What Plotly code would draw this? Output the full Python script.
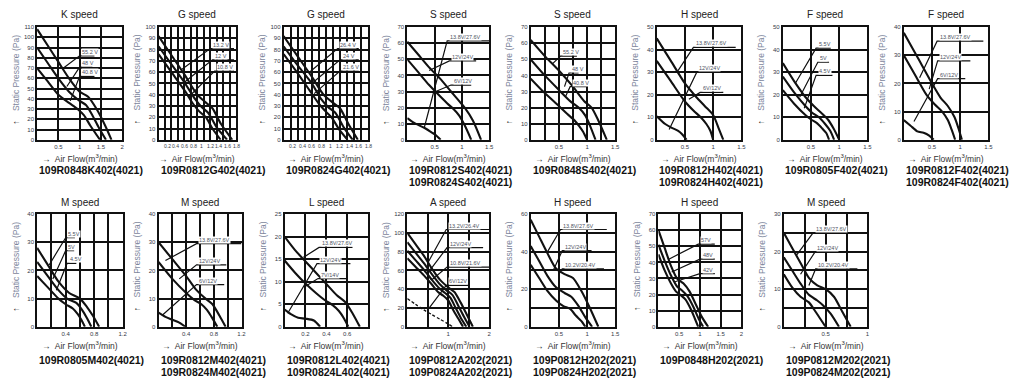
import plotly.graph_objects as go

W, H = 1014, 379

# ---------------- data (air flow m3/min, static pressure Pa) ----------------
# panel 1  K speed 109R0848K402
k48_q = [[0, 0.25, 0.5, 0.75, 1.0, 1.2, 1.4, 1.6, 1.75],
         [0, 0.25, 0.5, 0.75, 1.0, 1.15, 1.3, 1.45, 1.62],
         [0, 0.25, 0.5, 0.75, 0.95, 1.1, 1.25, 1.48]]
k48_p = [[108, 92, 76, 60, 47, 42, 30, 14, 0],
         [90, 75, 60, 47, 38, 34, 24, 12, 0],
         [70, 57, 44, 36, 30, 24, 14, 0]]
k48_volt = ["55.2 V", "48 V", "40.8 V"]
k48_lead = [[0.62, 70, 1.0, 82, 1.35], [0.7, 52, 1.0, 71, 1.3], [0.78, 38, 1.0, 62, 1.35]]

# panel 2  G speed 109R0812G402
g12_q = [[0, 0.3, 0.6, 0.9, 1.1, 1.25, 1.45, 1.71],
         [0, 0.3, 0.6, 0.85, 1.0, 1.15, 1.35, 1.59],
         [0, 0.3, 0.6, 0.8, 0.95, 1.1, 1.25, 1.44]]
g12_p = [[92, 75, 58, 40, 33, 28, 14, 0],
         [83, 67, 51, 36, 29, 24, 11, 0],
         [76, 60, 44, 32, 25, 20, 10, 0]]
g12_volt = ["13.2 V", "12 V", "10.8 V"]
g12_lead = [[0.52, 62, 1.2, 81, 1.75], [0.6, 51, 1.25, 71, 1.75], [0.7, 38, 1.3, 61, 1.75]]

# panel 3  G speed 109R0824G402
g24_q = [[0, 0.3, 0.6, 0.85, 1.05, 1.2, 1.38, 1.58],
         [0, 0.3, 0.6, 0.8, 0.95, 1.1, 1.28, 1.47],
         [0, 0.3, 0.55, 0.75, 0.9, 1.02, 1.17, 1.36]]
g24_p = [[92, 74, 56, 40, 33, 28, 14, 0],
         [83, 66, 50, 36, 29, 24, 11, 0],
         [76, 59, 44, 32, 25, 20, 10, 0]]
g24_volt = ["26.4 V", "24 V", "21.6 V"]
g24_lead = [[0.55, 60, 1.15, 81, 1.6], [0.6, 50, 1.2, 71, 1.6], [0.65, 41, 1.2, 61, 1.6]]

# panel 4  S speed 109R0812S402 / 0824S402
s12_q = [[0, 0.2, 0.4, 0.6, 0.8, 0.95, 1.05, 1.2, 1.35],
         [0, 0.2, 0.4, 0.6, 0.75, 0.85, 0.95, 1.05, 1.17],
         [0, 0.15, 0.31, 0.45, 0.52, 0.61]]
s12_p = [[61, 53, 45, 38, 30, 24, 20, 12, 0],
         [50, 42, 34, 27, 22, 19, 15, 9, 0],
         [13.5, 10, 7.5, 4.5, 3, 0]]
s12_volt = ["13.8V/27.6V", "12V/24V", "6V/12V"]
s12_lead = [[0.31, 7.5, 0.73, 61.5, 1.5], [0.4, 43, 0.77, 49, 1.26], [0.52, 30, 0.8, 34, 1.17]]

# panel 5  S speed 109R0848S402
s48_q = [[0, 0.25, 0.5, 0.75, 0.95, 1.08, 1.2, 1.35],
         [0, 0.25, 0.5, 0.7, 0.85, 0.97, 1.05, 1.15],
         [0, 0.25, 0.5, 0.65, 0.78, 0.87, 0.93, 1.0]]
s48_p = [[62, 52, 43, 33, 24, 20, 12, 0],
         [50, 40, 31, 24, 20, 15, 9, 0],
         [38, 29, 21, 16, 12, 8, 5, 0]]
s48_volt = ["55.2 V", "48 V", "40.8 V"]
s48_lead = [[0.38, 47, 0.53, 52, 0.82], [0.6, 33, 0.68, 41.5, 0.85], [0.62, 27, 0.7, 33, 1.0]]

# panel 6  H speed 109R0812H402 / 0824H402
h12_q = [[0, 0.25, 0.5, 0.7, 0.85, 1.0, 1.1, 1.18],
         [0, 0.25, 0.5, 0.65, 0.78, 0.88, 0.95, 1.0],
         [0, 0.15, 0.26, 0.38, 0.45, 0.53]]
h12_p = [[45, 35, 25, 19, 15, 11, 5, 0],
         [35, 26, 17, 13, 10, 7, 4, 0],
         [10.5, 7, 5.4, 4, 2.5, 0]]
h12_volt = ["13.8V/27.6V", "12V/24V", "6V/12V"]
h12_lead = [[0.36, 30, 0.65, 41, 1.4], [0.22, 4.6, 0.71, 30, 1.18], [0.57, 18, 0.77, 21, 1.18]]

# panel 7  F speed 109R0805F402
f05_q = [[0, 0.2, 0.4, 0.55, 0.68, 0.8, 0.9, 1.0],
         [0, 0.2, 0.4, 0.52, 0.64, 0.75, 0.84, 0.91],
         [0, 0.2, 0.4, 0.5, 0.6, 0.7, 0.77, 0.82]]
f05_p = [[34, 26, 19, 15, 12, 9, 5, 0],
         [28, 21, 15, 12, 10, 7, 4, 0],
         [22, 16, 11, 9, 7.5, 5, 3, 0]]
f05_volt = ["5.5V", "5V", "4.5V"]
f05_lead = [[0.22, 25, 0.59, 40.7, 0.85], [0.3, 19, 0.62, 34.4, 0.82], [0.38, 14, 0.59, 28.6, 0.88]]

# panel 8  F speed 109R0812F402 / 0824F402
f12_q = [[0, 0.25, 0.5, 0.65, 0.78, 0.9, 0.97, 1.03],
         [0, 0.2, 0.4, 0.55, 0.68, 0.78, 0.85, 0.91],
         [0, 0.12, 0.24, 0.35, 0.45, 0.53]]
f12_p = [[38, 29, 20, 15, 12, 8, 4, 0],
         [30, 23, 16, 12.5, 10, 7, 3.5, 0],
         [7, 5, 3, 2.5, 1.5, 0]]
f12_volt = ["13.8V/27.6V", "12V/24V", "6V/12V"]
f12_lead = [[0.28, 22, 0.59, 35, 1.41], [0.45, 18, 0.6, 28, 1.18], [0.18, 6.5, 0.6, 21.7, 1.09]]

# panel 9  M speed 109R0805M402
m05_q = [[0, 0.15, 0.3, 0.45, 0.6, 0.7, 0.78, 0.87],
         [0, 0.15, 0.3, 0.42, 0.55, 0.63, 0.7, 0.76],
         [0, 0.15, 0.3, 0.4, 0.5, 0.57, 0.62, 0.67]]
m05_p = [[28, 22, 16, 12, 10, 7, 4, 0],
         [23, 18, 13, 10, 8.5, 6, 3, 0],
         [18, 14, 10, 8, 6.5, 4.5, 2.5, 0]]
m05_volt = ["5.5V", "5V", "4.5V"]
m05_lead = [[0.17, 22, 0.4, 31.6, 0.53], [0.22, 17, 0.4, 27, 0.52], [0.27, 13, 0.42, 22.5, 0.55]]

# panel 10  M speed 109R0812M402 / 0824M402
m12_q = [[0, 0.2, 0.4, 0.55, 0.68, 0.78, 0.88, 0.97],
         [0, 0.2, 0.4, 0.52, 0.62, 0.7, 0.78, 0.85],
         [0, 0.1, 0.2, 0.3, 0.39]]
m12_p = [[30, 24, 18, 13, 10, 8, 4, 0],
         [23, 17, 12, 9.5, 8, 6, 3, 0],
         [5, 3.5, 2.5, 1.5, 0]]
m12_volt = ["13.8V/27.6V", "12V/24V", "6V/12V"]
m12_lead = [[0.1, 23.5, 0.55, 29.5, 1.2], [0.3, 17, 0.55, 22, 0.98], [0.05, 4, 0.55, 15, 0.95]]

# panel 11  L speed 109R0812L402 / 0824L402
l12_q = [[0, 0.1, 0.2, 0.3, 0.4, 0.5, 0.58, 0.65, 0.72],
         [0, 0.1, 0.2, 0.3, 0.38, 0.46, 0.52, 0.57, 0.61],
         [0, 0.06, 0.13, 0.2, 0.28, 0.34]]
l12_p = [[20, 17, 14.5, 12, 9.5, 7, 5.5, 3, 0],
         [14.7, 12, 9.6, 7.5, 6, 4.8, 3.5, 1.8, 0],
         [3.8, 2.8, 2, 1.8, 1.4, 0]]
l12_volt = ["13.8V/27.6V", "12V/24V", "7V/14V"]
l12_lead = [[0.18, 15.4, 0.33, 17.6, 0.65], [0.03, 3, 0.31, 14, 0.63], [0.2, 9, 0.32, 10.7, 0.6]]

# panel 12  A speed 109P0812A202 / 0824A202 (last curve dashed)
a12_q = [[0, 0.2, 0.4, 0.6, 0.8, 1.0, 1.15, 1.3, 1.45, 1.6],
         [0, 0.2, 0.4, 0.6, 0.8, 0.95, 1.1, 1.25, 1.38, 1.52],
         [0, 0.2, 0.4, 0.6, 0.78, 0.92, 1.05, 1.18, 1.3, 1.44],
         [0, 0.2, 0.4, 0.6, 0.75, 0.88, 1.0, 1.12, 1.24, 1.36],
         [0, 0.2, 0.4, 0.6, 0.8, 1.0, 1.1]]
a12_p = [[100, 88, 76, 62, 50, 42, 37, 26, 13, 0],
         [90, 79, 68, 56, 45, 39, 34, 22, 11, 0],
         [81, 71, 61, 50, 41, 36, 31, 20, 10, 0],
         [73, 64, 55, 45, 37, 33, 28, 18, 9, 0],
         [30, 24, 18, 13, 8, 3, 0]]
a12_volt = ["13.2V/26.4V", "12V/24V", "10.8V/21.6V", "6V/12V"]
a12_lead = [[0.5, 68, 0.95, 103.6, 2.0], [0.55, 60, 0.97, 84.4, 1.85],
            [0.6, 50, 0.97, 63.5, 2.0], [0.5, 18, 0.95, 44, 1.5]]

# panel 13  H speed 109P0812H202 / 0824H202
h2_q = [[0, 0.15, 0.3, 0.45, 0.6, 0.75, 0.9, 1.05, 1.2],
        [0, 0.15, 0.3, 0.45, 0.6, 0.72, 0.85, 0.97, 1.09],
        [0, 0.15, 0.3, 0.45, 0.58, 0.7, 0.8, 0.9, 0.97]]
h2_p = [[57, 48, 39, 31, 28, 26, 19, 10, 0],
        [43, 35, 27, 21, 18, 16, 11, 5, 0],
        [33, 26, 19, 14, 11, 9.5, 6, 3, 0]]
h2_volt = ["13.8V/27.6V", "12V/24V", "10.2V/20.4V"]
h2_lead = [[0.3, 40, 0.53, 51.8, 1.35], [0.4, 30, 0.56, 40.5, 1.08], [0.5, 28, 0.56, 30.9, 1.3]]

# panel 14  H speed 109P0848H202
h48_q = [[0, 0.15, 0.3, 0.45, 0.6, 0.75, 0.9, 1.05, 1.2],
         [0, 0.15, 0.3, 0.45, 0.55, 0.7, 0.85, 0.97, 1.08],
         [0, 0.15, 0.3, 0.42, 0.52, 0.65, 0.78, 0.88, 0.96]]
h48_p = [[60, 49, 38, 30, 27, 22, 14, 6, 0],
         [51, 41, 32, 25, 23, 19, 12, 5, 0],
         [45, 35, 27, 22, 20, 17, 11, 5, 0]]
h48_volt = ["57V", "48V", "42V"]
h48_lead = [[0.25, 42, 0.96, 51.3, 1.36], [0.32, 34, 1.0, 42, 1.36], [0.4, 28, 1.0, 33, 1.36]]

# panel 15  M speed 109P0812M202 / 0824M202
m2_q = [[0, 0.1, 0.2, 0.3, 0.4, 0.5, 0.6, 0.7, 0.8],
        [0, 0.1, 0.2, 0.3, 0.4, 0.48, 0.56, 0.66],
        [0, 0.1, 0.2, 0.3, 0.38, 0.44, 0.5]]
m2_p = [[25, 21, 17, 13, 11, 10, 8, 4, 0],
        [18.5, 15, 11.5, 8.5, 7, 5.5, 3.5, 0],
        [14, 10.5, 8, 6.5, 4, 2, 0]]
m2_volt = ["13.8V/27.6V", "12V/24V", "10.2V/20.4V"]
m2_lead = [[0.15, 19, 0.35, 25, 0.88], [0.2, 14, 0.37, 19.8, 0.62], [0.3, 11, 0.38, 15.4, 0.88]]

titles = ["K speed", "G speed", "G speed", "S speed", "S speed", "H speed", "F speed", "F speed",
          "M speed", "M speed", "L speed", "A speed", "H speed", "H speed", "M speed"]
models = [["109R0848K402(4021)"], ["109R0812G402(4021)"], ["109R0824G402(4021)"],
          ["109R0812S402(4021)", "109R0824S402(4021)"], ["109R0848S402(4021)"],
          ["109R0812H402(4021)", "109R0824H402(4021)"], ["109R0805F402(4021)"],
          ["109R0812F402(4021)", "109R0824F402(4021)"], ["109R0805M402(4021)"],
          ["109R0812M402(4021)", "109R0824M402(4021)"], ["109R0812L402(4021)", "109R0824L402(4021)"],
          ["109P0812A202(2021)", "109P0824A202(2021)"], ["109P0812H202(2021)", "109P0824H202(2021)"],
          ["109P0848H202(2021)"], ["109P0812M202(2021)", "109P0824M202(2021)"]]

# axis: (xmax, xgrid, xticks, ymax, ygrid, yticks)
axes_spec = [
    (2, 0.5, [0.5, 1, 1.5, 2], 110, 10, list(range(0, 111, 10))),
    (1.8, 0.15, [0.2, 0.4, 0.6, 0.8, 1, 1.2, 1.4, 1.6, 1.8], 100, 10, list(range(0, 101, 10))),
    (1.8, 0.15, [0.2, 0.4, 0.6, 0.8, 1, 1.2, 1.4, 1.6, 1.8], 100, 10, list(range(0, 101, 10))),
    (1.5, 0.5, [0.5, 1, 1.5], 70, 10, list(range(0, 71, 10))),
    (1.5, 0.25, [0.5, 1, 1.5], 70, 10, list(range(0, 71, 10))),
    (1.5, 0.5, [0.5, 1, 1.5], 50, 10, list(range(0, 51, 10))),
    (1.5, 0.5, [0.5, 1, 1.5], 50, 10, list(range(0, 51, 10))),
    (1.5, 0.5, [0.5, 1, 1.5], 40, 10, list(range(0, 41, 10))),
    (1.2, 0.2, [0.4, 0.8, 1.2], 40, 10, list(range(0, 41, 10))),
    (1.2, 0.2, [0.4, 0.8, 1.2], 40, 10, list(range(0, 41, 10))),
    (0.8, 0.2, [0.2, 0.4, 0.6], 25, 5, list(range(0, 26, 5))),
    (2, 0.5, [1, 2], 120, 20, list(range(0, 121, 20))),
    (1.5, 0.5, [0.5, 1, 1.5], 60, 10, [0, 20, 40, 60]),
    (2, 0.5, [0.5, 1, 1.5, 2], 70, 10, list(range(0, 71, 10))),
    (1, 0.25, [0.5, 1], 30, 5, [0, 10, 20, 30]),
]

curves = [(k48_q, k48_p, k48_volt, k48_lead), (g12_q, g12_p, g12_volt, g12_lead),
          (g24_q, g24_p, g24_volt, g24_lead), (s12_q, s12_p, s12_volt, s12_lead),
          (s48_q, s48_p, s48_volt, s48_lead), (h12_q, h12_p, h12_volt, h12_lead),
          (f05_q, f05_p, f05_volt, f05_lead), (f12_q, f12_p, f12_volt, f12_lead),
          (m05_q, m05_p, m05_volt, m05_lead), (m12_q, m12_p, m12_volt, m12_lead),
          (l12_q, l12_p, l12_volt, l12_lead), (a12_q, a12_p, a12_volt, a12_lead),
          (h2_q, h2_p, h2_volt, h2_lead), (h48_q, h48_p, h48_volt, h48_lead),
          (m2_q, m2_p, m2_volt, m2_lead)]

# pixel boxes of the plot areas (left, right, top, bottom)
R1, R2 = (24.5, 139), (214.5, 329)
boxes = [(37.3, 122.7, *R1), (159.3, 237.3, *R1), (285, 370, *R1), (409.3, 491.7, *R1),
         (533.3, 618.3, *R1), (660, 745, *R1), (786.7, 871.7, *R1), (908.3, 993.3, *R1),
         (37.3, 123.3, *R2), (159.3, 242.7, *R2), (286, 370, *R2), (409.3, 491.7, *R2),
         (533.3, 618.3, *R2), (661.7, 745, *R2), (787.7, 871.7, *R2)]

FONT = "Liberation Sans, Arial, sans-serif"
INK = "#111111"
TICK = dict(size=6, color="#353a48", family=FONT)


def px(x):
    return x / W


def py(y):
    return 1 - y / H


def fmt(v):
    return "%g" % v


def grid_ticks(vmax, step, labels):
    n = int(round(vmax / step))
    vals = [round(k * step, 4) for k in range(n + 1)]
    text = []
    for v in vals:
        hit = [lab for lab in labels if abs(lab - v) < 1e-6]
        text.append(fmt(hit[0]) if hit else "")
    return vals, text


fig = go.Figure()
annotations = []
layout = {}

for i, (box, spec, crv) in enumerate(zip(boxes, axes_spec, curves), start=1):
    l, r, t, b = box
    xmax, xg, xt, ymax, yg, yt = spec
    q_list, p_list, volts, leads = crv
    xa, ya = "x%d" % i, "y%d" % i

    xv, xtxt = grid_ticks(xmax, xg, xt)
    yv, ytxt = grid_ticks(ymax, yg, yt)
    if any(t_ not in xv for t_ in xt):
        # labels that do not sit on grid lines: written under the axis instead
        xtxt = ["" for _ in xv]
        for v in xt:
            annotations.append(dict(x=v, y=py(b + 6), xref=xa, yref="paper", text=fmt(v),
                                    showarrow=False, xanchor="center", yanchor="middle",
                                    font=dict(size=5, color="#353a48", family=FONT)))

    layout["xaxis%d" % i] = dict(
        domain=[px(l), px(r)], range=[0, xmax], anchor=ya,
        showline=True, mirror=True, linecolor=INK, linewidth=1.8,
        tickmode="array", tickvals=xv, ticktext=xtxt, tickangle=0,
        tickfont=TICK, ticks="", ticklabelstandoff=0,
        showgrid=True, gridcolor=INK, gridwidth=1.5, zeroline=False, fixedrange=True)
    layout["yaxis%d" % i] = dict(
        domain=[py(b), py(t)], range=[0, ymax], anchor=xa,
        showline=True, mirror=True, linecolor=INK, linewidth=1.8,
        tickmode="array", tickvals=yv, ticktext=ytxt,
        tickfont=TICK, ticks="", ticklabelstandoff=0,
        showgrid=True, gridcolor=INK, gridwidth=1.5, zeroline=False, fixedrange=True)

    for k, (q, p) in enumerate(zip(q_list, p_list)):
        dashed = (i == 12 and k == 4)
        fig.add_trace(go.Scatter(
            x=q, y=p, mode="lines", xaxis=xa, yaxis=ya, showlegend=False, hoverinfo="skip",
            line=dict(color=INK, width=1.3 if dashed else 2.1, shape="spline", smoothing=0.7,
                      dash="3px,2px" if dashed else "solid")))

    for (x0, y0, x1, y1, x2), v in zip(leads, volts):
        fig.add_trace(go.Scatter(
            x=[x0, x1, x2], y=[y0, y1, y1], mode="lines", xaxis=xa, yaxis=ya,
            showlegend=False, hoverinfo="skip", line=dict(color=INK, width=1.2)))
        annotations.append(dict(
            x=x1 + 0.02 * xmax, y=y1, xref=xa, yref=ya, text=v, showarrow=False,
            xanchor="left", yanchor="bottom", yshift=0, bgcolor="white", borderpad=0,
            font=dict(size=5.5, color="#4d5262", family=FONT)))

    cx = (l + r) / 2
    row2 = t > 100
    ttop = 203 if row2 else 12
    annotations.append(dict(x=px(cx), y=py(ttop), xref="paper", yref="paper",
                            text=titles[i - 1], showarrow=False, xanchor="center", yanchor="middle",
                            font=dict(size=10, color="#222", family=FONT)))
    # y title
    annotations.append(dict(x=px(l - 22), y=py((t + b) / 2 - 4), xref="paper", yref="paper",
                            text="<span style='color:#222'>↑</span>    Static Pressure (Pa)",
                            textangle=-90, showarrow=False, xanchor="center", yanchor="middle",
                            font=dict(size=8.5, color="#7d869c", family=FONT)))
    # x title
    annotations.append(dict(x=px(cx), y=py(b + 19), xref="paper", yref="paper",
                            text="→  Air Flow(m<sup>3</sup>/min)", showarrow=False,
                            xanchor="center", yanchor="middle",
                            font=dict(size=8.5, color="#333", family=FONT)))
    first = b + (34 if row2 else 31)
    for j, m in enumerate(models[i - 1]):
        annotations.append(dict(x=px(l), y=py(first + 12 * j), xref="paper", yref="paper",
                                text="<b>%s</b>" % m, showarrow=False, xanchor="left",
                                yanchor="middle", font=dict(size=10.5, color="#111", family=FONT)))

fig.update_layout(width=W, height=H, margin=dict(l=0, r=0, t=0, b=0),
                  paper_bgcolor="white", plot_bgcolor="white",
                  annotations=annotations, **layout)

fig.write_html("out.html", config={"displayModeBar": False},
               post_script="document.body.style.margin='0';")
